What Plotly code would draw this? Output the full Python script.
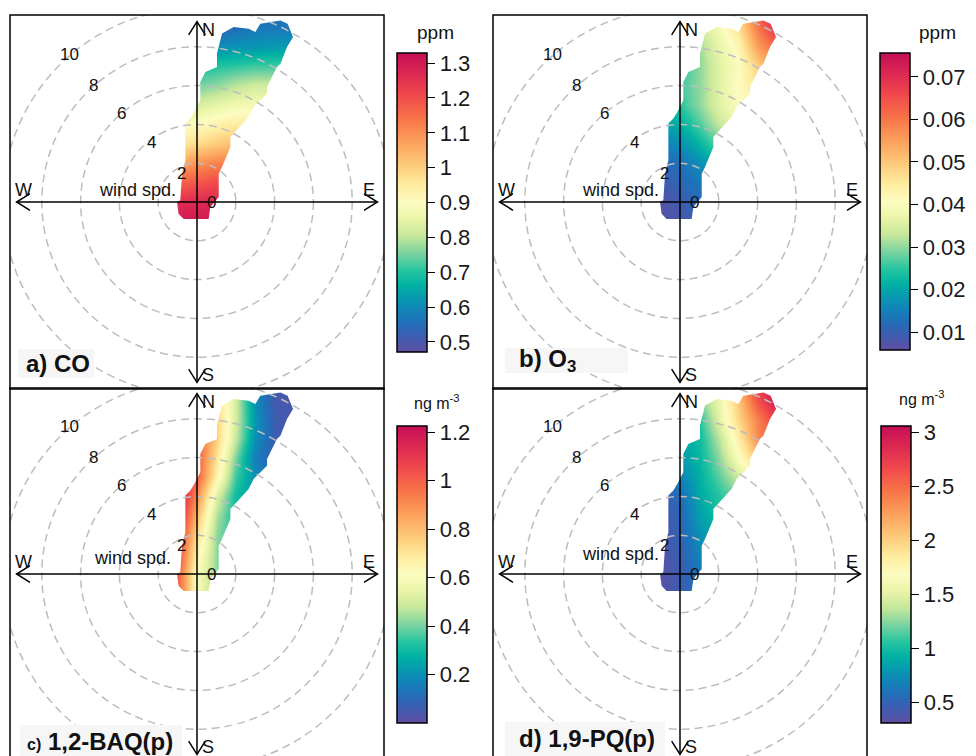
import plotly.graph_objects as go

W, H = 976, 756
PXU = 19.4  # pixels per m/s

# ---------------- data ----------------
grid_u = [-1, 0, 1, 2, 3, 4, 5]                      # east component (m/s)
grid_v = [-1, 0, 1, 2, 3, 4, 5, 6, 7, 8, 9, 10]      # north component (m/s)

co_ppm = [
    [1.30, 1.30, 1.29, 1.28, 1.27, 1.26, 1.25],
    [1.26, 1.27, 1.27, 1.25, 1.24, 1.23, 1.22],
    [1.17, 1.19, 1.21, 1.20, 1.19, 1.18, 1.17],
    [1.06, 1.09, 1.12, 1.13, 1.12, 1.11, 1.10],
    [0.96, 0.98, 1.01, 1.03, 1.03, 1.02, 1.01],
    [0.88, 0.90, 0.93, 0.95, 0.95, 0.95, 0.94],
    [0.82, 0.83, 0.85, 0.87, 0.88, 0.88, 0.88],
    [0.74, 0.75, 0.77, 0.80, 0.82, 0.82, 0.82],
    [0.68, 0.69, 0.70, 0.71, 0.72, 0.72, 0.72],
    [0.60, 0.60, 0.61, 0.62, 0.62, 0.63, 0.63],
    [0.52, 0.52, 0.52, 0.55, 0.57, 0.57, 0.57],
    [0.49, 0.49, 0.49, 0.52, 0.54, 0.55, 0.55],
]
o3_ppm = [
    [0.007, 0.008, 0.011, 0.013, 0.015, 0.017, 0.019],
    [0.007, 0.009, 0.012, 0.014, 0.016, 0.018, 0.020],
    [0.009, 0.011, 0.014, 0.017, 0.019, 0.021, 0.023],
    [0.011, 0.013, 0.017, 0.021, 0.024, 0.026, 0.028],
    [0.015, 0.017, 0.022, 0.028, 0.031, 0.033, 0.035],
    [0.019, 0.021, 0.027, 0.033, 0.038, 0.040, 0.042],
    [0.022, 0.025, 0.030, 0.036, 0.040, 0.043, 0.045],
    [0.024, 0.026, 0.030, 0.036, 0.041, 0.046, 0.050],
    [0.024, 0.025, 0.030, 0.036, 0.040, 0.049, 0.055],
    [0.026, 0.027, 0.031, 0.037, 0.042, 0.055, 0.062],
    [0.028, 0.030, 0.034, 0.039, 0.046, 0.060, 0.070],
    [0.030, 0.032, 0.036, 0.040, 0.048, 0.064, 0.074],
]
baq_ng = [
    [1.00, 0.60, 0.42, 0.38, 0.34, 0.30, 0.25],
    [1.00, 0.60, 0.42, 0.38, 0.34, 0.30, 0.25],
    [1.05, 0.65, 0.42, 0.36, 0.32, 0.28, 0.24],
    [1.10, 0.72, 0.42, 0.33, 0.28, 0.24, 0.20],
    [1.18, 0.80, 0.45, 0.30, 0.24, 0.20, 0.16],
    [1.22, 0.90, 0.52, 0.30, 0.22, 0.16, 0.12],
    [1.20, 1.00, 0.65, 0.35, 0.20, 0.12, 0.08],
    [1.15, 1.02, 0.70, 0.40, 0.16, 0.07, 0.05],
    [1.10, 1.00, 0.75, 0.48, 0.20, 0.07, 0.04],
    [1.05, 0.98, 0.75, 0.50, 0.22, 0.06, 0.04],
    [1.00, 0.95, 0.72, 0.50, 0.20, 0.05, 0.04],
    [1.00, 0.95, 0.72, 0.50, 0.20, 0.05, 0.04],
]
pq_ng = [
    [0.34, 0.45, 0.60, 0.72, 0.85, 0.95, 1.05],
    [0.34, 0.45, 0.62, 0.75, 0.88, 0.98, 1.08],
    [0.36, 0.47, 0.70, 0.82, 0.95, 1.05, 1.15],
    [0.38, 0.50, 0.76, 0.88, 1.00, 1.10, 1.20],
    [0.40, 0.52, 0.84, 1.00, 1.10, 1.20, 1.30],
    [0.42, 0.56, 0.88, 1.05, 1.20, 1.35, 1.50],
    [0.55, 0.68, 0.92, 1.15, 1.40, 1.65, 1.85],
    [0.68, 0.80, 0.95, 1.25, 1.65, 2.05, 2.30],
    [0.75, 0.85, 1.00, 1.35, 1.80, 2.35, 2.60],
    [0.80, 0.90, 1.05, 1.50, 1.95, 2.40, 2.75],
    [0.85, 0.95, 1.25, 1.55, 2.05, 2.65, 3.00],
    [0.90, 1.00, 1.25, 1.55, 2.10, 2.70, 3.05],
]

# outline of the area that has data (u, v in m/s)
blob_u = [-0.69, 0.60, 0.69, 1.12, 1.12, 1.29, 1.72, 1.72, 2.66, 2.92, 3.61, 3.61, 4.12, 4.30,
          4.64, 4.95, 4.67, 4.30, 3.26, 3.01, 2.66, 1.89, 1.29, 1.20, 1.03, 1.03, 0.43, 0.17,
          0.17, -0.09, -0.34, -0.60, -0.60, -0.77, -0.86, -1.03, -0.95]
blob_v = [-0.88, -0.88, -0.26, 0.26, 1.46, 1.80, 2.84, 3.35, 4.38, 4.90, 5.58, 5.93, 6.96, 7.13,
          7.99, 8.51, 9.19, 9.36, 9.19, 8.76, 8.93, 9.02, 8.68, 8.33, 7.65, 6.96, 6.70, 6.19,
          5.24, 4.73, 4.30, 4.04, 2.15, 1.46, 0.09, 0.00, -0.60]

ring_ws = [2, 4, 6, 8, 10]
ring_text = ["2", "4", "6", "8", "10"]
ring_text_u = [-0.82, -2.32, -3.87, -5.36, -6.55]
ring_text_v = [1.49, 3.09, 4.54, 6.03, 7.58]

co_ticks = [0.5, 0.6, 0.7, 0.8, 0.9, 1.0, 1.1, 1.2, 1.3]
co_ticktext = ["0.5", "0.6", "0.7", "0.8", "0.9", "1", "1.1", "1.2", "1.3"]
o3_ticks = [0.01, 0.02, 0.03, 0.04, 0.05, 0.06, 0.07]
o3_ticktext = ["0.01", "0.02", "0.03", "0.04", "0.05", "0.06", "0.07"]
baq_ticks = [0.2, 0.4, 0.6, 0.8, 1.0, 1.2]
baq_ticktext = ["0.2", "0.4", "0.6", "0.8", "1", "1.2"]
pq_ticks = [0.5, 1.0, 1.5, 2.0, 2.5, 3.0]
pq_ticktext = ["0.5", "1", "1.5", "2", "2.5", "3"]

spectral = [
    [0.00, "rgb(94,79,162)"], [0.05, "rgb(62,92,176)"], [0.10, "rgb(32,112,186)"],
    [0.16, "rgb(12,142,182)"], [0.22, "rgb(0,176,164)"], [0.27, "rgb(34,196,160)"],
    [0.33, "rgb(122,211,160)"], [0.39, "rgb(200,232,155)"], [0.45, "rgb(236,246,170)"],
    [0.50, "rgb(252,252,192)"], [0.56, "rgb(254,236,160)"], [0.62, "rgb(253,206,125)"],
    [0.70, "rgb(252,162,92)"], [0.78, "rgb(248,116,72)"], [0.86, "rgb(240,72,76)"],
    [0.93, "rgb(220,40,82)"], [1.00, "rgb(196,14,86)"],
]

FONT = "Arial, Liberation Sans, Helvetica, sans-serif"

panels = [
    dict(z=co_ppm, zmin=0.471, zmax=1.329, tv=co_ticks, tt=co_ticktext,
         box=(10, 15, 384, 389), c=(197, 202), cb=(397, 53, 299),
         unit="ppm", unit_xy=(435, 32), unit_size=19,
         label="<b>a) CO</b>", label_xy=(24, 363), label_bg=(18, 349, 94, 378),
         spd=(-3.09, 0.62)),
    dict(z=o3_ppm, zmin=0.0058, zmax=0.0756, tv=o3_ticks, tt=o3_ticktext,
         box=(493, 15, 867, 389), c=(680, 202), cb=(880, 53, 297),
         unit="ppm", unit_xy=(937, 32), unit_size=19,
         label="<b>b) O<sub>3</sub></b>", label_xy=(517, 360), label_bg=(505, 348, 628, 373),
         spd=(-3.09, 0.62)),
    dict(z=baq_ng, zmin=0.0, zmax=1.225, tv=baq_ticks, tt=baq_ticktext,
         box=(10, 388, 384, 761), c=(197, 574), cb=(397, 426, 297),
         unit="ng m<sup>-3</sup>", unit_xy=(437, 402), unit_size=16,
         label="<b><span style='font-size:16px'>c)</span> 1,2-BAQ(p)</b>", label_xy=(25, 741),
         label_bg=(20, 725, 182, 756), spd=(-3.35, 0.82)),
    dict(z=pq_ng, zmin=0.306, zmax=3.056, tv=pq_ticks, tt=pq_ticktext,
         box=(493, 388, 867, 761), c=(680, 574), cb=(881, 426, 297),
         unit="ng m<sup>-3</sup>", unit_xy=(922, 398), unit_size=16,
         label="<b>d) 1,9-PQ(p)</b>", label_xy=(517, 738), label_bg=(505, 722, 665, 756),
         spd=(-3.06, 1.03)),
]

fig = go.Figure()
shapes = []
annotations = []
layout_axes = {}

L = 9.3     # axis arrow half-length (m/s)
AH = 0.69   # arrowhead length
AW = 0.43   # arrowhead half-width

poly = " L ".join(f"{u},{v}" for u, v in zip(reversed(blob_u), reversed(blob_v)))

for i, p in enumerate(panels):
    k = "" if i == 0 else str(i + 1)
    xr, yr = "x" + k, "y" + k
    x0, y0, x1, y1 = p["box"]
    cx, cy = p["c"]
    ydom0 = max(0.0, 1 - y1 / H)
    ybot_px = min(y1, H)
    layout_axes["xaxis" + k] = dict(
        domain=[x0 / W, x1 / W], range=[(x0 - cx) / PXU, (x1 - cx) / PXU],
        visible=False, fixedrange=True, anchor=yr)
    layout_axes["yaxis" + k] = dict(
        domain=[ydom0, 1 - y0 / H], range=[(cy - ybot_px) / PXU, (cy - y0) / PXU],
        visible=False, fixedrange=True, anchor=xr)

    cbx, cby, cblen = p["cb"]
    fig.add_trace(go.Heatmap(
        x=grid_u, y=grid_v, z=p["z"], zmin=p["zmin"], zmax=p["zmax"],
        zsmooth="best", colorscale=spectral, xaxis=xr, yaxis=yr, hoverinfo="skip",
        colorbar=dict(
            x=cbx / W, xanchor="left", xref="paper", xpad=0,
            y=1 - cby / H, yanchor="top", yref="paper", ypad=0,
            len=cblen, lenmode="pixels", thickness=30, thicknessmode="pixels",
            outlinecolor="black", outlinewidth=1.5,
            tickmode="array", tickvals=p["tv"], ticktext=p["tt"],
            ticks="outside", ticklen=8, tickwidth=1.2, tickcolor="black",
            tickfont=dict(size=22, color="#1a1a1a", family=FONT),
        ),
    ))

    # white mask outside the data area
    shapes.append(dict(
        type="path", xref=xr, yref=yr, layer="above",
        path=f"M -2,-2 L 6,-2 L 6,11 L -2,11 Z M {poly} Z",
        fillrule="evenodd", fillcolor="white", line=dict(width=0)))

    # dashed wind speed rings
    for r in ring_ws:
        shapes.append(dict(type="circle", xref=xr, yref=yr, layer="above",
                           x0=-r, x1=r, y0=-r, y1=r,
                           line=dict(color="#BDBDBD", width=1.5, dash="8px,5px")))

    # compass axes with open arrowheads
    shapes.append(dict(type="line", xref=xr, yref=yr, layer="above",
                       x0=-L, x1=L, y0=0, y1=0, line=dict(color="black", width=1.5)))
    shapes.append(dict(type="line", xref=xr, yref=yr, layer="above",
                       x0=0, x1=0, y0=-L, y1=L, line=dict(color="black", width=1.5)))
    heads = [
        f"M {-AW},{L - AH} L 0,{L} L {AW},{L - AH}",
        f"M {-AW},{-L + AH} L 0,{-L} L {AW},{-L + AH}",
        f"M {L - AH},{-AW} L {L},0 L {L - AH},{AW}",
        f"M {-L + AH},{-AW} L {-L},0 L {-L + AH},{AW}",
    ]
    for hp in heads:
        shapes.append(dict(type="path", xref=xr, yref=yr, layer="above", path=hp,
                           line=dict(color="black", width=1.5)))

    # texts inside plot
    tf = dict(size=17, color="#111111", family=FONT)
    tf2 = dict(size=18, color="#111111", family=FONT)
    for t, u, v in zip(ring_text, ring_text_u, ring_text_v):
        annotations.append(dict(x=u, y=v, xref=xr, yref=yr, text=t, showarrow=False, font=tf,
                                xanchor="center", yanchor="middle"))
    annotations.append(dict(x=p["spd"][0], y=p["spd"][1], xref=xr, yref=yr, text="wind spd.",
                            showarrow=False, font=tf2, xanchor="center", yanchor="middle"))
    annotations.append(dict(x=0.74, y=0.0, xref=xr, yref=yr, text="0", showarrow=False, font=tf,
                            xanchor="center", yanchor="middle"))
    for t, u, v in [("N", 0.58, 8.88), ("S", 0.58, -8.90), ("W", -8.92, 0.62), ("E", 8.87, 0.60)]:
        annotations.append(dict(x=u, y=v, xref=xr, yref=yr, text=t, showarrow=False, font=tf2,
                                xanchor="center", yanchor="middle"))

    # panel label background + label
    bx0, by0, bx1, by1 = p["label_bg"]
    shapes.append(dict(type="rect", xref="paper", yref="paper", layer="above",
                       x0=bx0 / W, x1=bx1 / W, y0=1 - by1 / H, y1=1 - by0 / H,
                       fillcolor="#F6F6F6", line=dict(width=0)))
    lx, ly = p["label_xy"]
    annotations.append(dict(x=lx / W, y=1 - ly / H, xref="paper", yref="paper",
                            xanchor="left", yanchor="middle", text=p["label"], showarrow=False,
                            font=dict(size=24, color="#111111", family=FONT)))

    # colorbar unit title
    ux, uy = p["unit_xy"]
    annotations.append(dict(x=ux / W, y=1 - uy / H, xref="paper", yref="paper",
                            xanchor="center", yanchor="middle",
                            text=p["unit"], showarrow=False,
                            font=dict(size=p["unit_size"], color="#111111", family=FONT)))

# panel borders (drawn last)
for p in panels:
    x0, y0, x1, y1 = p["box"]
    shapes.append(dict(type="rect", xref="paper", yref="paper", layer="above",
                       x0=x0 / W, x1=x1 / W, y0=1 - y1 / H, y1=1 - y0 / H,
                       line=dict(color="black", width=1.5), fillcolor="rgba(0,0,0,0)"))

fig.update_layout(
    width=W, height=H, margin=dict(l=0, r=0, t=0, b=0),
    paper_bgcolor="white", plot_bgcolor="white", showlegend=False,
    shapes=shapes, annotations=annotations, font=dict(family=FONT),
    **layout_axes,
)

fig.write_html("out.html")
